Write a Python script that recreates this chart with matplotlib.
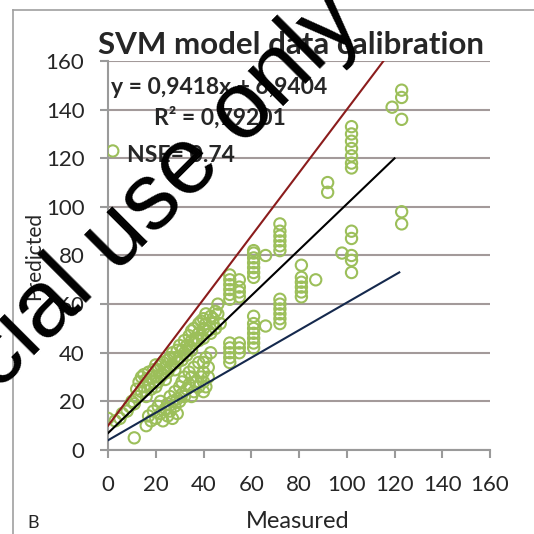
import numpy as np
import matplotlib
matplotlib.use('Agg')
import matplotlib.pyplot as plt
from matplotlib.lines import Line2D

# (measured, predicted) pairs
band_points = [(3, 12), (5, 13), (6, 15), (8, 16), (9, 18), (10, 20), (11, 19), (12, 22), (12, 25),
               (13, 28), (14, 30), (14, 24), (15, 26), (15, 31), (16, 22), (16, 29), (17, 27),
               (17, 32), (18, 25), (18, 30), (19, 28), (19, 33), (20, 26), (20, 30), (20, 35),
               (21, 28), (21, 33), (22, 30), (22, 35), (23, 31), (23, 36), (24, 29), (24, 34),
               (25, 32), (25, 37), (26, 34), (26, 38), (27, 35), (27, 40), (28, 33), (28, 38),
               (29, 36), (29, 41), (30, 38), (30, 43), (31, 37), (31, 41), (32, 40), (32, 45),
               (33, 39), (33, 43), (34, 42), (34, 47), (35, 41), (35, 45), (35, 49), (36, 44),
               (36, 50), (37, 46), (38, 45), (38, 48), (38, 52), (39, 47), (39, 53), (40, 46),
               (40, 50), (40, 54), (41, 52), (41, 56), (42, 49), (43, 55), (43, 48), (44, 52),
               (44, 54), (45, 57), (45, 50), (46, 60), (46, 56), (47, 52)]

low_points = [(0, 13), (11, 5), (16, 10), (17, 14), (18, 12), (19, 16), (20, 13), (21, 18),
              (22, 15), (22, 20), (23, 12), (24, 17), (25, 14), (25, 19), (26, 16), (26, 22),
              (27, 13), (27, 20), (28, 18), (28, 24), (29, 15), (29, 21), (30, 20), (30, 26),
              (31, 23), (31, 28), (32, 22), (32, 30), (33, 25), (34, 27), (34, 32), (35, 22),
              (35, 30), (36, 24), (36, 34), (37, 28), (38, 26), (38, 36), (39, 30), (40, 24),
              (40, 28), (40, 32), (40, 36), (41, 38), (41, 26), (42, 30), (42, 34), (43, 40)]

# columns of points at one measured value
column_points = {
    2: [123],
    51: [62, 64, 66, 68, 70, 72, 36, 38, 40, 42, 44],
    55: [63, 65, 67, 70, 40, 42, 44],
    61: [71, 73, 75, 77, 79, 81, 82, 42, 44, 46, 48, 50, 52, 55],
    66: [80, 51],
    72: [82, 84, 86, 88, 90, 93, 52, 54, 56, 58, 60, 62],
    81: [76, 71, 69, 67, 65, 63],
    87: [70],
    92: [106, 110],
    98: [81],
    102: [133, 130, 127, 124, 121, 118, 116, 90, 87, 80, 78, 73],
    119: [141],
    123: [148, 145, 136, 98, 93],
}

# straight lines: (intercept, slope, x end)
upper_line = (10.0, 1.30, 120)
fit_line = (6.9404, 0.9418, 120)
lower_line = (4.0, 0.566, 122)

x_ticks = [0, 20, 40, 60, 80, 100, 120, 140, 160]
y_ticks = [0, 20, 40, 60, 80, 100, 120, 140, 160]

W = 534
TXT = '#262626'
plt.rcParams['font.family'] = ['Lato', 'DejaVu Sans']

fig = plt.figure(figsize=(5.34, 5.34), dpi=100)
ax = fig.add_axes([108 / W, 1 - 450 / W, 382 / W, 389 / W])

pts = band_points + low_points + [(k, v) for k, vals in column_points.items() for v in vals]
mx = np.array([p[0] for p in pts])
py = np.array([p[1] for p in pts])
ax.scatter(mx, py, s=66, facecolors='none', edgecolors='#9cbf5a', linewidths=1.5, zorder=3)

for (b, m, xe), col in [(upper_line, '#8b1c1c'), (fit_line, 'black'), (lower_line, '#15294d')]:
    xs = np.array([0, xe])
    ax.plot(xs, b + m * xs, color=col, lw=1.5, zorder=4)

ax.set_xlim(0, 160)
ax.set_ylim(0, 160)
ax.set_xticks(x_ticks)
ax.set_yticks(y_ticks)
ax.grid(axis='y', color='#a39a9a', lw=1.5)
ax.set_axisbelow(True)
for s in ['top', 'right']:
    ax.spines[s].set_visible(False)
for s in ['left', 'bottom']:
    ax.spines[s].set_color('#9a9a9a')
    ax.spines[s].set_linewidth(1.5)
ax.tick_params(axis='both', colors='#9a9a9a', width=1.5, length=6, labelsize=16,
               labelcolor=TXT)
ax.tick_params(axis='y', pad=11)
ax.tick_params(axis='x', pad=12)

fig.text(291 / W, 1 - 45 / W, 'SVM model data calibration', fontsize=22.5, fontweight='bold',
         ha='center', va='center', color=TXT)
fig.text(111 / W, 1 - 88 / W, 'y = 0,9418x + 6,9404', fontsize=16.5, fontweight='bold',
         ha='left', va='center', color=TXT)
fig.text(154 / W, 1 - 118 / W, 'R² = 0,79201', fontsize=16.5, fontweight='bold',
         ha='left', va='center', color=TXT)
fig.text(127 / W, 1 - 156 / W, 'NSE= 0.74', fontsize=16.5, fontweight='bold',
         ha='left', va='center', color=TXT)
fig.text(34 / W, 1 - 256 / W, 'Predicted', fontsize=15, rotation=90,
         ha='center', va='center', color=TXT)
fig.text(298 / W, 1 - 521 / W, 'Measured', fontsize=17, ha='center', va='center', color=TXT)
fig.text(33 / W, 1 - 523 / W, 'B', fontsize=13, ha='center', va='center', color=TXT)

# chart frame
fig.add_artist(Line2D([13 / W, 13 / W], [0, 1 - 10 / W], color='#a0a0a0', lw=1.2))
fig.add_artist(Line2D([13 / W, 1], [1 - 10 / W, 1 - 10 / W], color='#a0a0a0', lw=1.2))

# watermark
fig.text(163 / W, 1 - 192 / W, 'cial use only', fontsize=68, rotation=45,
         ha='center', va='center', color='black', family=['Liberation Sans', 'DejaVu Sans'],
         zorder=10)

fig.savefig('out.png', dpi=100)
